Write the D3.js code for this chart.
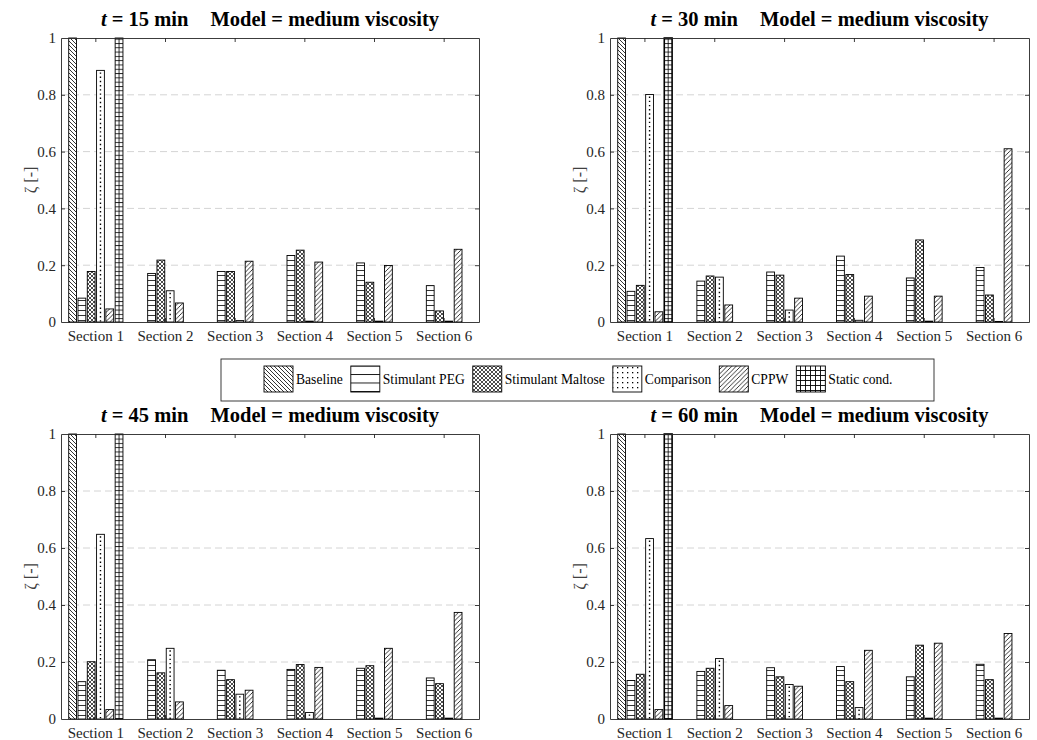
<!DOCTYPE html>
<html>
<head>
<meta charset="utf-8">
<script src="https://cdn.jsdelivr.net/npm/d3@7"></script>
<style>
  html, body { margin: 0; padding: 0; background: #fff; }
  svg { display: block; font-family: "Liberation Serif", "Times New Roman", serif; }
</style>
</head>
<body>
<svg id="chart" width="1037" height="740"></svg>
<script>
// ---------------- DATA ----------------
const sections = ["Section 1", "Section 2", "Section 3", "Section 4", "Section 5", "Section 6"];
const seriesNames = ["Baseline", "Stimulant PEG", "Stimulant Maltose", "Comparison", "CPPW", "Static cond."];
const timesMin = [15, 30, 45, 60];
const modelName = "medium viscosity";
const yTicks = [0, 0.2, 0.4, 0.6, 0.8, 1];

// rows: t = 15, 30, 45, 60 min ; columns: Section 1..6
const baseline = [
  [1, 0, 0, 0, 0, 0],
  [1, 0, 0, 0, 0, 0],
  [1, 0, 0, 0, 0, 0],
  [1, 0, 0, 0, 0, 0]
];
const stimulantPEG = [
  [0.084, 0.171, 0.178, 0.234, 0.208, 0.128],
  [0.108, 0.144, 0.176, 0.232, 0.155, 0.192],
  [0.131, 0.208, 0.171, 0.174, 0.178, 0.144],
  [0.135, 0.167, 0.180, 0.184, 0.148, 0.192]
];
const stimulantMaltose = [
  [0.178, 0.218, 0.178, 0.253, 0.140, 0.039],
  [0.129, 0.162, 0.165, 0.167, 0.289, 0.095],
  [0.201, 0.162, 0.138, 0.191, 0.187, 0.124],
  [0.157, 0.178, 0.148, 0.131, 0.259, 0.138]
];
const comparison = [
  [0.886, 0.110, 0.005, 0.003, 0.003, 0.003],
  [0.801, 0.158, 0.042, 0.006, 0.003, 0.002],
  [0.648, 0.248, 0.087, 0.023, 0.003, 0.003],
  [0.633, 0.212, 0.121, 0.040, 0.003, 0.003]
];
const cppw = [
  [0.046, 0.067, 0.214, 0.211, 0.199, 0.256],
  [0.036, 0.060, 0.084, 0.091, 0.091, 0.610],
  [0.033, 0.060, 0.101, 0.181, 0.248, 0.374],
  [0.033, 0.047, 0.115, 0.241, 0.266, 0.300]
];
const staticCond = [
  [1, 0, 0, 0, 0, 0],
  [1, 0, 0, 0, 0, 0],
  [1, 0, 0, 0, 0, 0],
  [1, 0, 0, 0, 0, 0]
];
const seriesData = [baseline, stimulantPEG, stimulantMaltose, comparison, cppw, staticCond];

// ---------------- LAYOUT ----------------
const panels = [
  { left: 61,  right: 479,  top: 38,  bottom: 322 },
  { left: 610, right: 1029, top: 38,  bottom: 322 },
  { left: 61,  right: 479,  top: 434, bottom: 719 },
  { left: 610, right: 1029, top: 434, bottom: 719 }
];
const axisColor = "#262626";
const fontFam = '"Liberation Serif", "Times New Roman", serif';

const svg = d3.select("#chart");
const defs = svg.append("defs");

function pat(id, w, h, draw) {
  const p = defs.append("pattern").attr("id", id)
    .attr("patternUnits", "userSpaceOnUse").attr("width", w).attr("height", h);
  p.append("rect").attr("width", w).attr("height", h).attr("fill", "#fff");
  draw(p);
}
const sw = 0.8;
// Baseline: back diagonal
pat("p-base", 4, 4, p => p.append("path").attr("d", "M-1,-1 L5,5 M-1,3 L1,5 M3,-1 L5,1")
  .attr("stroke", "#000").attr("stroke-width", sw));
// PEG: horizontal lines
pat("p-peg", 5, 5, p => p.append("path").attr("d", "M0,0.5 L5,0.5").attr("stroke", "#000").attr("stroke-width", sw));
pat("p-peg-leg", 29, 8.5, p => p.append("path").attr("d", "M0,0.5 L29,0.5").attr("stroke", "#000").attr("stroke-width", 0.9));
// Maltose: cross hatch
pat("p-mal", 4, 4, p => p.append("path").attr("d", "M-1,-1 L5,5 M-1,3 L1,5 M3,-1 L5,1 M-1,5 L5,-1 M-1,1 L1,-1 M3,5 L5,3")
  .attr("stroke", "#000").attr("stroke-width", 0.7));
// Comparison: dots (legend)
pat("p-cmp-leg", 5, 5, p => p.append("rect").attr("x", 2).attr("y", 2).attr("width", 1.3).attr("height", 1.3).attr("fill", "#000"));
// CPPW: forward diagonal
pat("p-cppw", 4.5, 4.5, p => p.append("path").attr("d", "M-1,5.5 L5.5,-1 M-1,1 L1,-1 M3.5,5.5 L5.5,3.5")
  .attr("stroke", "#000").attr("stroke-width", sw));
// Static: grid (horizontal lines; vertical line drawn separately for bars)
pat("p-sta", 4.3, 4.3, p => p.append("path").attr("d", "M0,0.5 L4.3,0.5").attr("stroke", "#000").attr("stroke-width", sw));
pat("p-sta-leg", 5, 5, p => p.append("path").attr("d", "M0,0.5 L5,0.5 M0.5,0 L0.5,5").attr("stroke", "#000").attr("stroke-width", 0.9));

const barFills = ["url(#p-base)", "url(#p-peg)", "url(#p-mal)", "#fff", "url(#p-cppw)", "url(#p-sta)"];
const legFills = ["url(#p-base)", "url(#p-peg-leg)", "url(#p-mal)", "url(#p-cmp-leg)", "url(#p-cppw)", "url(#p-sta-leg)"];

panels.forEach((P, pi) => {
  const g = svg.append("g");
  const x0 = d3.scaleBand().domain(sections).range([P.left, P.right]).paddingInner(0).paddingOuter(0);
  const bw = x0.bandwidth();
  const x1 = d3.scaleBand().domain(seriesNames).range([-0.4 * bw, 0.4 * bw]);
  const barW = x1.bandwidth() * 0.84;
  const y = d3.scaleLinear().domain([0, 1]).range([P.bottom, P.top]);

  // grid
  g.append("g").selectAll("line").data(yTicks.filter(v => v > 0 && v < 1)).join("line")
    .attr("x1", P.left).attr("x2", P.right)
    .attr("y1", d => y(d)).attr("y2", d => y(d))
    .attr("stroke", "#d4d4d4").attr("stroke-width", 1).attr("stroke-dasharray", "7,4");

  // bars
  const bars = [];
  sections.forEach((sec, si) => {
    seriesNames.forEach((sn, k) => {
      const v = seriesData[k][pi][si];
      if (v > 0) bars.push({ sec, sn, k, v });
    });
  });
  const bg = g.append("g");
  bars.forEach(b => {
    const cx = x0(b.sec) + bw / 2 + x1(b.sn) + x1.bandwidth() / 2;
    const xl = cx - barW / 2;
    const yt = y(b.v), h = y(0) - y(b.v);
    bg.append("rect").attr("x", xl).attr("y", yt).attr("width", barW).attr("height", h)
      .attr("fill", barFills[b.k]).attr("stroke", "#000")
      .attr("stroke-width", (b.k === 5 && (pi === 1 || pi === 3)) ? 1.6 : 0.9);
    if (b.k === 3 && h > 3) {
      bg.append("line").attr("x1", cx).attr("x2", cx).attr("y1", yt + 2).attr("y2", y(0))
        .attr("stroke", "#000").attr("stroke-width", 1.4).attr("stroke-dasharray", "1.4,2.8");
    }
    if (b.k === 5) {
      bg.append("line").attr("x1", cx).attr("x2", cx).attr("y1", yt).attr("y2", y(0))
        .attr("stroke", "#000").attr("stroke-width", 0.8);
    }
  });

  // axes
  const fmt = d => (d === 0 || d === 1) ? String(d) : d.toFixed(1);
  const yl = g.append("g").attr("transform", `translate(${P.left},0)`)
    .call(d3.axisLeft(y).tickValues(yTicks).tickFormat(fmt).tickSizeInner(-4).tickSizeOuter(0).tickPadding(5));
  const yr = g.append("g").attr("transform", `translate(${P.right},0)`)
    .call(d3.axisRight(y).tickValues(yTicks).tickFormat("").tickSizeInner(-4).tickSizeOuter(0));
  const xb = g.append("g").attr("transform", `translate(0,${P.bottom})`)
    .call(d3.axisBottom(x0).tickSizeInner(-4).tickSizeOuter(0).tickPadding(8));
  const xt = g.append("g").attr("transform", `translate(0,${P.top})`)
    .call(d3.axisTop(x0).tickFormat("").tickSizeInner(-4).tickSizeOuter(0));
  [yl, yr, xb, xt].forEach(a => {
    a.select(".domain").attr("stroke", axisColor).attr("stroke-width", 0.9);
    a.selectAll(".tick line").attr("stroke", axisColor).attr("stroke-width", 0.9);
    a.selectAll("text").attr("fill", axisColor).attr("font-family", fontFam).attr("font-size", 15);
  });
  [yl, yr].forEach(a => a.selectAll(".tick").filter(d => d === 0 || d === 1).select("line").remove());

  // y label
  g.append("text")
    .attr("transform", `translate(${P.left - 25},${(P.top + P.bottom) / 2}) rotate(-90)`)
    .attr("text-anchor", "middle").attr("font-family", fontFam).attr("font-size", 16)
    .attr("fill", "#404040").text("ζ [-]");

  // title
  const tt = g.append("text").attr("x", (P.left + P.right) / 2).attr("y", P.top - 12)
    .attr("text-anchor", "middle").attr("font-family", fontFam).attr("font-size", 20.5)
    .attr("font-weight", "bold").attr("fill", "#000");
  tt.append("tspan").attr("font-style", "italic").text("t");
  tt.append("tspan").text(` = ${timesMin[pi]} min`);
  tt.append("tspan").attr("dx", 22).text(`Model = ${modelName}`);
});

// ---------------- LEGEND ----------------
const lg = svg.append("g");
lg.append("rect").attr("x", 221).attr("y", 359).attr("width", 713).attr("height", 42)
  .attr("fill", "#fff").attr("stroke", axisColor).attr("stroke-width", 0.9);
let lx = 264;
seriesNames.forEach((sn, k) => {
  lg.append("rect").attr("x", lx).attr("y", 366).attr("width", 29).attr("height", 26)
    .attr("fill", legFills[k]).attr("stroke", "#000").attr("stroke-width", 0.9);
  const t = lg.append("text").attr("x", lx + 32).attr("y", 384)
    .attr("font-family", fontFam).attr("font-size", 13.6).attr("fill", "#000").text(sn);
  lx += 32 + t.node().getComputedTextLength() + 8;
});
</script>
</body>
</html>
